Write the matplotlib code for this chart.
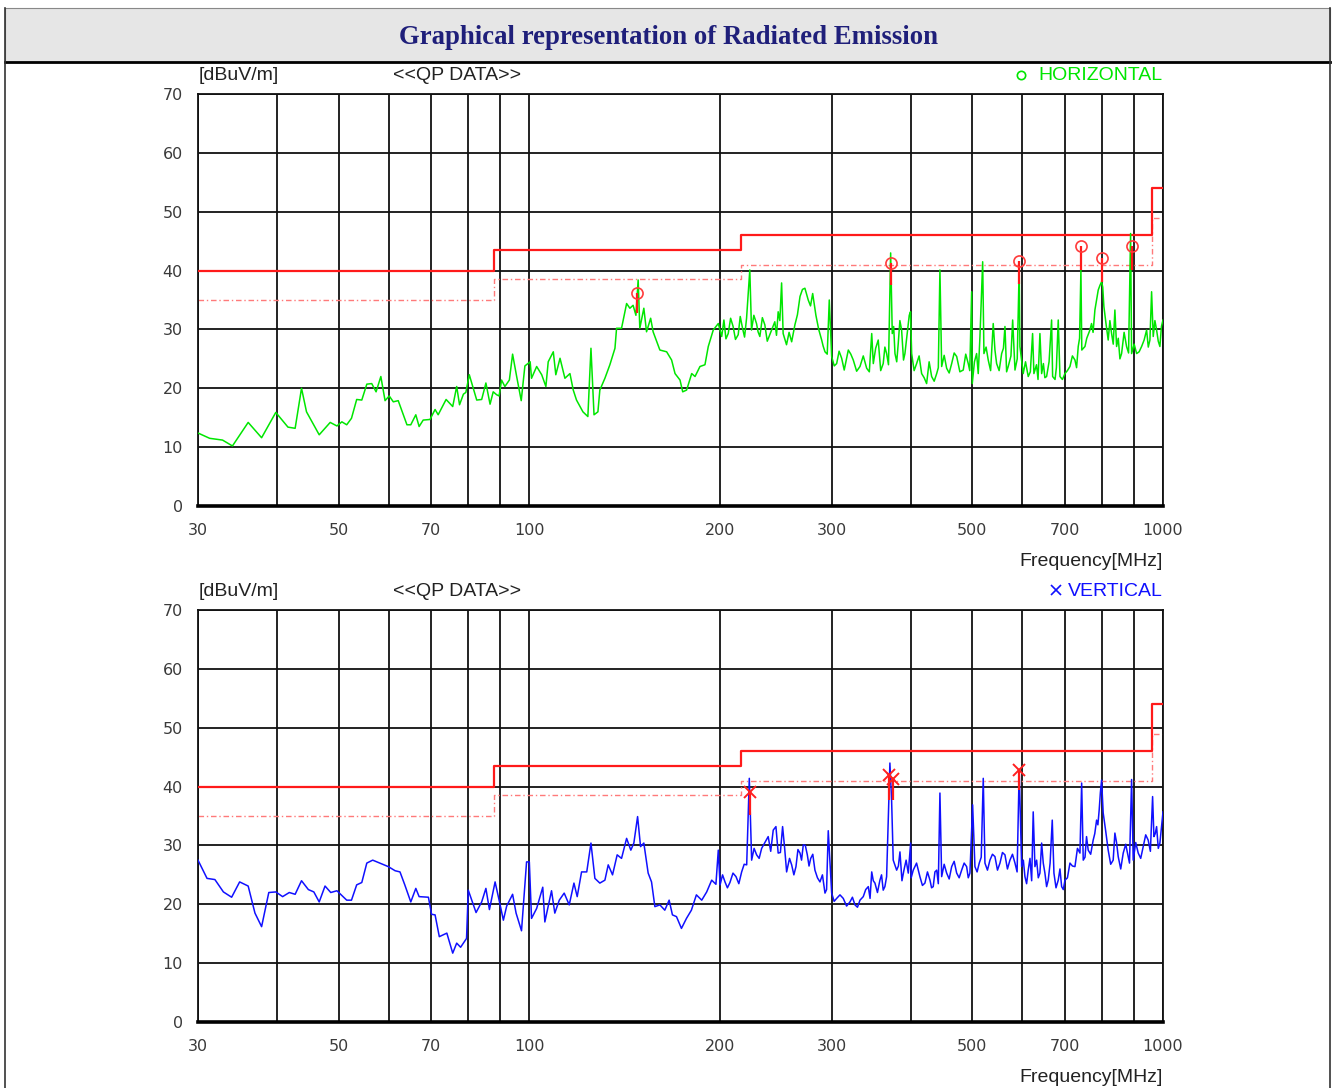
import matplotlib
matplotlib.use("Agg")
import numpy as np
import matplotlib.pyplot as plt
from matplotlib.patches import Rectangle
from matplotlib.lines import Line2D
from matplotlib.ticker import FixedLocator, NullFormatter

# ---- data (MHz, dBuV/m) ----
h_freq = [30.0, 31.3, 32.8, 34.0, 36.0, 37.8, 39.8, 41.6, 42.7, 43.7, 44.5, 46.6, 48.5, 49.7,
          50.6, 51.5, 52.4, 53.4, 54.4, 55.4, 56.4, 57.3, 58.3, 59.2, 60.1, 61.0, 62.1, 64.1,
          65.0, 66.2, 67.0, 68.0, 69.7, 71.0, 71.8, 73.9, 75.7, 76.8, 77.6, 78.7, 79.4, 80.4,
          82.6, 84.1, 85.4, 86.7, 87.7, 88.8, 89.6, 90.4, 91.5, 93.0, 94.1, 95.5, 97.1, 98.4,
          100.3, 100.8, 102.7, 104.6, 106.2, 107.1, 109.1, 110.1, 111.8, 113.8, 115.9, 117.3,
          118.7, 121.5, 123.7, 125.1, 126.5, 128.3, 129.2, 131.6, 134.0, 136.5, 137.3, 139.8,
          142.4, 144.1, 145.8, 147.3, 148.5, 149.4, 151.6, 153.1, 155.4, 156.8, 160.7, 164.7,
          167.7, 169.8, 172.9, 174.6, 177.1, 180.4, 182.6, 185.9, 189.3, 191.6, 195.1, 198.7,
          201.2, 202.8, 206.0, 209.7, 213.6, 217.0, 220.2, 222.8, 224.2, 228.3, 231.1, 235.3,
          239.6, 244.0, 247.0, 250.1, 251.5, 254.6, 259.4, 262.5, 267.4, 272.2, 275.5, 280.0,
          283.3, 289.3, 292.8, 297.4, 300.0, 305.5, 311.1, 318.7, 324.5, 332.5, 340.7, 347.0,
          349.0, 355.3, 361.8, 366.3, 371.7, 373.9, 377.6, 382.1, 386.8, 391.5, 397.7, 401.2,
          408.5, 416.0, 423.6, 431.4, 439.4, 444.6, 447.4, 455.6, 464.0, 472.5, 483.9, 492.8,
          498.9, 500.0, 508.0, 514.2, 519.3, 521.7, 529.9, 539.6, 546.3, 556.4, 563.1, 569.8,
          579.1, 584.0, 593.0, 594.6, 601.7, 612.8, 622.6, 625.6, 639.4, 643.4, 655.1, 667.1,
          669.6, 683.4, 687.7, 700.3, 713.1, 726.2, 734.9, 742.1, 744.5, 753.1, 766.8, 780.8,
          790.3, 800.0, 806.7, 819.4, 829.6, 839.6, 844.8, 860.3, 876.0, 888.9, 892.2, 908.6,
          925.2, 942.2, 953.6, 959.4, 965.1, 977.0, 988.8, 1000.0]
h_level = [12.4, 11.5, 11.2, 10.2, 14.2, 11.6, 15.9, 13.4, 13.2, 20.0, 16.0, 12.1, 14.2, 13.6,
           14.3, 13.8, 14.9, 18.1, 18.0, 20.7, 20.8, 19.4, 22.0, 17.9, 18.7, 17.7, 17.9, 13.8,
           13.8, 15.5, 13.5, 14.6, 14.7, 16.4, 15.5, 18.1, 16.9, 20.3, 17.2, 19.0, 19.3, 22.3,
           18.0, 18.1, 20.9, 17.3, 19.4, 18.9, 18.7, 21.4, 20.3, 21.4, 25.8, 22.0, 17.9, 23.8,
           24.5, 21.7, 23.7, 22.3, 20.3, 24.5, 26.2, 22.3, 25.1, 21.7, 22.5, 19.7,
           18.0, 16.0, 15.2, 26.8, 15.5, 16.0, 19.7, 21.7, 24.0, 26.8, 30.2, 30.2,
           34.4, 33.6, 34.1, 32.4, 38.4, 30.2, 33.6, 29.6, 31.9, 29.6, 26.5, 26.2,
           24.8, 22.5, 21.4, 19.4, 19.7, 22.5, 22.0, 23.7, 24.0, 27.1, 29.9, 31.0,
           28.8, 31.6, 29.3, 30.5, 29.1, 30.2, 31.9, 40.1, 29.9, 31.0, 28.8, 30.8,
           29.1, 31.3, 33.0, 37.9, 29.3, 27.4, 27.9, 30.8, 35.6, 37.0, 35.0, 36.1,
           32.4, 28.2, 26.2, 35.0, 25.4, 24.2, 25.1, 26.5, 24.8, 23.7, 23.4, 29.3,
           24.2, 28.2, 24.2, 25.9, 43.0, 29.3, 25.9, 27.6, 29.9, 25.9, 32.4, 25.9,
           24.2, 22.5, 20.8, 22.0, 22.5, 40.1, 23.7, 23.4, 24.2, 25.4, 23.1, 24.2,
           36.4, 20.8, 25.9, 28.8, 41.5, 25.9, 24.8, 31.0, 24.2, 25.9, 30.5, 23.7,
           31.6, 23.1, 40.5, 27.1, 22.5, 22.0, 29.3, 22.5, 29.3, 22.5, 22.0, 31.6,
           22.0, 31.6, 22.0, 22.5, 23.7, 24.8, 27.1, 40.1, 26.5, 27.1, 29.9, 33.3,
           36.7, 38.1, 33.9, 28.2, 29.3, 33.3, 27.1, 25.9, 27.1, 46.3, 25.9, 25.9,
           27.1, 29.9, 28.2, 36.4, 28.8, 29.9, 27.1, 31.6]

# extra readings in the dense (noisy) part of the horizontal sweep
h_freq_fine = [204.3, 207.8, 211.5, 215.2, 218.6, 226.1, 229.6, 233.2, 237.4, 241.8, 245.5,
               248.5, 257.0, 264.9, 269.8, 277.8, 286.2, 290.8, 295.2, 302.8, 308.2, 314.0,
               321.6, 328.5, 336.5, 344.0, 352.0, 358.5, 364.0, 368.8, 375.8, 380.0, 384.4,
               389.5, 394.5, 399.5, 404.8, 412.2, 419.8, 427.5, 435.4, 442.0, 451.5, 459.8,
               468.2, 478.0, 488.3, 495.5, 504.0, 511.0, 525.8, 534.5, 543.0, 551.3, 560.0,
               566.5, 575.5, 588.8, 606.8, 617.5, 631.5, 635.0, 647.5, 651.0, 661.0, 675.5,
               678.8, 693.8, 706.5, 719.5, 730.5, 738.5, 758.0, 771.3, 775.6, 785.5, 795.3,
               803.3, 812.9, 824.5, 834.6, 850.0, 855.1, 868.2, 882.4, 900.5, 916.9, 933.7,
               947.9, 971.0, 982.9, 994.3]
h_level_fine = [28.4, 31.9, 28.3, 32.2, 28.7, 32.4, 29.6, 32.0, 28.0, 30.2, 29.0,
                31.5, 29.5, 32.5, 36.8, 34.0, 30.0, 27.2, 25.8, 23.8, 26.3, 23.1,
                25.8, 22.9, 25.5, 22.8, 26.8, 23.0, 27.0, 24.0, 30.5, 24.5, 31.5,
                24.8, 29.0, 33.0, 23.0, 25.5, 21.8, 24.5, 21.2, 23.5, 25.6, 22.6,
                26.0, 22.8, 25.8, 23.0, 24.5, 22.5, 27.0, 23.0, 26.5, 23.0, 26.8,
                22.8, 25.5, 25.0, 24.5, 22.8, 24.0, 21.5, 24.2, 21.8, 24.5, 21.5,
                23.5, 21.5, 23.0, 25.5, 23.5, 28.5, 28.5, 31.0, 29.5, 35.0, 37.5,
                37.2, 31.0, 31.5, 27.5, 28.5, 25.0, 29.5, 26.0, 27.5, 26.2, 28.2,
                27.0, 31.5, 28.0, 30.5]

v_freq = [30.0, 31.0, 31.9, 32.9, 33.9, 34.9, 36.0, 36.9, 37.8, 38.8, 39.8, 40.8, 41.8, 42.7,
          43.7, 44.8, 45.7, 46.6, 47.6, 48.6, 49.7, 51.5, 52.4, 53.4, 54.4, 55.4, 56.6, 58.1,
          59.9, 61.4, 62.5, 63.6, 65.0, 66.2, 67.0, 69.3, 70.1, 71.0, 72.1, 74.1, 75.7, 76.8,
          77.9, 79.6, 80.1, 82.4, 84.1, 85.4, 86.5, 88.3, 89.6, 91.0, 92.1, 94.1, 95.3, 97.2,
          99.0, 100.0, 100.8, 102.7, 105.0, 105.8, 108.4, 109.7, 111.5, 113.5, 115.6, 117.6,
          119.0, 120.9, 123.2, 125.1, 126.9, 129.2, 131.6, 133.2, 135.3, 137.6, 139.8, 142.4,
          144.6, 146.2, 148.2, 149.8, 151.6, 154.0, 155.9, 157.8, 160.7, 163.6, 166.2, 168.2,
          170.7, 173.8, 177.0, 180.2, 183.5, 187.1, 190.5, 194.0, 197.0, 198.7, 200.0, 203.6,
          207.3, 211.9, 216.3, 220.3, 222.4, 224.3, 228.4, 232.6, 238.2, 242.6, 245.0, 247.0,
          251.0, 254.7, 259.4, 263.5, 267.4, 270.6, 274.6, 278.0, 282.3, 287.5, 292.8, 296.3,
          300.0, 305.5, 312.9, 320.6, 326.5, 332.5, 336.5, 342.7, 347.0, 351.1, 357.5, 361.8,
          366.3, 370.7, 373.0, 375.2, 379.9, 384.5, 390.1, 396.3, 399.7, 403.5, 413.4, 421.0,
          428.8, 433.9, 439.4, 444.6, 447.4, 455.6, 464.0, 472.5, 481.1, 489.9, 495.8, 500.7,
          504.9, 512.9, 520.4, 523.6, 533.2, 543.0, 553.0, 563.1, 573.4, 584.0, 593.0, 598.3,
          605.5, 612.8, 624.0, 627.9, 639.4, 643.4, 651.1, 659.0, 668.7, 672.8, 683.4, 691.9,
          700.3, 713.1, 726.2, 739.5, 744.1, 748.4, 762.0, 775.9, 785.6, 793.0, 800.0, 804.7,
          819.4, 834.4, 839.6, 849.8, 865.4, 881.2, 892.2, 897.4, 913.9, 930.6, 947.6, 962.9,
          967.5, 977.0, 988.8, 1000.0]
v_level = [27.5, 24.4, 24.2, 22.1, 21.2, 23.8, 23.1, 18.5, 16.2, 22.0, 22.1, 21.3, 22.0, 21.7,
           24.0, 22.5, 22.1, 20.4, 23.1, 22.0, 22.3, 20.7, 20.7, 23.3, 23.7, 27.0, 27.5, 27.0,
           26.4, 25.7, 25.5, 23.3, 20.4, 22.7, 21.3, 21.2, 18.3, 18.2, 14.5, 15.1, 11.7, 13.4,
           12.7, 14.2, 22.4, 18.6, 20.4, 22.7, 19.1, 23.8, 20.7, 17.3, 19.7, 21.7, 18.5, 15.5,
           27.2, 27.2, 17.6, 19.3, 22.9, 17.0, 22.3, 18.5, 20.7, 21.9, 19.9, 23.6,
           21.3, 25.5, 25.5, 30.4, 24.4, 23.6, 24.1, 26.7, 25.0, 28.4, 27.8, 31.2,
           29.2, 30.4, 34.9, 29.8, 30.4, 25.3, 23.8, 19.6, 19.9, 19.0, 20.7, 18.2,
           17.9, 15.9, 17.6, 19.0, 21.6, 20.7, 22.1, 24.1, 23.4, 29.2, 23.3, 23.8,
           23.7, 24.7, 25.5, 26.7, 41.4, 27.5, 28.4, 29.5, 31.5, 32.6, 33.2, 28.7,
           33.2, 25.5, 26.7, 26.4, 28.7, 30.1, 28.4, 27.8, 25.8, 23.8, 21.9, 32.5,
           21.9, 21.0, 21.0, 20.4, 19.9, 20.7, 21.3, 23.0, 25.5, 23.6, 24.1, 22.4,
           24.7, 44.0, 37.7, 27.5, 25.8, 28.9, 25.8, 25.3, 30.4, 25.8, 24.7, 23.6,
           24.1, 23.0, 25.8, 38.9, 24.7, 25.3, 26.4, 25.3, 25.8, 26.4, 25.3, 36.9,
           26.4, 27.0, 41.4, 27.0, 27.5, 28.1, 27.0, 28.4, 27.5, 27.0, 42.8, 26.4,
           24.7, 25.8, 35.7, 26.4, 25.3, 30.4, 25.3, 24.1, 34.3, 25.3, 24.1, 23.0,
           24.1, 27.0, 26.4, 28.7, 40.6, 27.5, 29.2, 30.9, 34.3, 36.0, 41.1, 35.5,
           29.2, 27.5, 32.1, 28.1, 28.7, 28.1, 41.2, 27.5, 28.7, 29.8, 30.9, 38.3,
           31.5, 33.2, 30.4, 35.7]

# extra readings in the dense part of the vertical sweep
v_freq_fine = [201.8, 205.4, 209.6, 214.1, 218.3, 226.3, 230.5, 235.4, 240.4, 249.0, 252.9,
               257.4, 261.5, 265.4, 268.9, 272.6, 276.3, 280.1, 284.9, 290.1, 294.5, 302.7,
               309.2, 316.7, 323.5, 329.5, 339.5, 344.9, 349.0, 354.3, 359.6, 364.0, 382.3,
               387.3, 393.2, 400.5, 408.4, 417.2, 424.9, 431.3, 436.6, 442.0, 451.5, 459.8,
               468.2, 476.8, 485.5, 492.8, 508.9, 516.6, 528.4, 538.1, 548.0, 558.0, 568.2,
               578.7, 588.5, 602.0, 609.2, 616.7, 620.5, 631.8, 635.6, 647.2, 655.1, 663.5,
               677.9, 687.7, 696.1, 706.6, 719.6, 732.8, 753.2, 757.4, 768.9, 780.4, 789.3,
               796.5, 811.9, 826.9, 844.7, 857.6, 873.3, 885.4, 905.6, 922.2, 939.1, 955.2,
               972.2, 983.0, 994.4]
v_level_fine = [25.0, 22.8, 25.3, 23.5, 26.8, 29.5, 27.8, 30.5, 29.0, 28.8, 29.5,
                27.8, 25.0, 29.3, 27.5, 30.0, 26.5, 28.5, 24.5, 25.0, 22.5, 20.5,
                21.6, 19.7, 21.2, 19.5, 22.5, 21.0, 24.0, 22.0, 25.0, 23.0, 26.5,
                24.0, 27.5, 24.5, 27.0, 23.2, 25.5, 22.8, 25.5, 23.5, 26.8, 24.3,
                27.3, 24.5, 27.0, 24.5, 25.5, 28.0, 25.8, 28.5, 25.8, 28.8, 26.0,
                28.5, 25.5, 27.5, 23.5, 27.8, 24.0, 27.5, 24.5, 27.0, 23.0, 27.0,
                22.8, 26.0, 22.5, 24.5, 26.5, 29.5, 28.0, 31.5, 28.5, 32.0, 33.5,
                39.0, 32.5, 26.8, 30.5, 26.0, 30.2, 27.0, 30.5, 27.8, 31.8, 29.0,
                32.0, 29.5, 33.0]

# QP results (marker level) and red stem bottoms
h_mark_freq = [148.0, 372.4, 593.0, 741.0, 800.0, 892.0]
h_mark_level = [36.2, 41.3, 41.7, 44.1, 42.1, 44.2]
h_stem_low = [32.8, 37.5, 37.8, 40.1, 38.1, 40.1]

v_mark_freq = [223.0, 369.0, 375.0, 593.0]
v_mark_level = [39.1, 41.9, 41.3, 42.9]
v_stem_low = [35.2, 37.7, 37.7, 39.4]

# limit (solid) and margin (dash-dot)
limit_edges = [30, 88, 216, 960, 1000]
limit_qp = [40, 43.5, 46, 54, 54]
limit_margin = [35, 38.5, 41, 49, 49]

grid_freqs = [40, 50, 60, 70, 80, 90, 100, 200, 300, 400, 500, 600, 700, 800, 900]
tick_freqs = [30, 50, 70, 100, 200, 300, 500, 700, 1000]
tick_labels = ["30", "50", "70", "100", "200", "300", "500", "700", "1000"]
y_ticks = [0, 10, 20, 30, 40, 50, 60, 70]


def merge(f1, l1, f2, l2):
    f = np.array(f1 + f2)
    l = np.array(l1 + l2)
    order = np.argsort(f, kind="stable")
    return f[order], l[order]


W, H = 1337, 1088
fig = plt.figure(figsize=(W / 100, H / 100), dpi=100)
fig.patch.set_facecolor("white")

# header band + frame
fig.add_artist(Rectangle((5 / W, 1 - 62 / H), (1330 - 5) / W, 54 / H,
                         transform=fig.transFigure, facecolor="#e6e6e6",
                         edgecolor="#888888", lw=0.8))
fig.add_artist(Line2D([5 / W, 1330 / W], [1 - 62 / H, 1 - 62 / H], transform=fig.transFigure,
                      color="black", lw=2.0))
fig.add_artist(Line2D([5 / W, 5 / W], [0, 1 - 8 / H], transform=fig.transFigure,
                      color="#333333", lw=1.2))
fig.add_artist(Line2D([1330 / W, 1330 / W], [0, 1 - 8 / H], transform=fig.transFigure,
                      color="#333333", lw=1.2))
fig.text(0.5, 1 - 38 / H, "Graphical representation of Radiated Emission",
         ha="center", va="center", fontsize=19.3, fontweight="bold",
         family="Liberation Serif", color="#1f1f7a")


def draw_panel(ax, freq, level, color, mfreq, mlevel, mlow, marker, legend):
    ax.set_xscale("log")
    ax.set_xlim(30, 1000)
    ax.set_ylim(0, 70)

    ax.set_xticks(tick_freqs)
    ax.set_xticklabels(tick_labels)
    ax.xaxis.set_minor_locator(FixedLocator(grid_freqs))
    ax.xaxis.set_minor_formatter(NullFormatter())
    ax.set_yticks(y_ticks)
    ax.grid(which="both", color="#111111", lw=1.3, zorder=0)
    ax.set_axisbelow(True)
    ax.tick_params(which="both", length=0)
    ax.tick_params(axis="x", pad=12, labelsize=11.5, labelcolor="#3a3a3a")
    ax.tick_params(axis="y", pad=11, labelsize=11.5, labelcolor="#3a3a3a")
    for lab in ax.get_xticklabels() + ax.get_yticklabels():
        lab.set_family("DejaVu Sans")
    for s in ["top", "left", "right"]:
        ax.spines[s].set_linewidth(1.3)
        ax.spines[s].set_color("#111111")
    ax.spines["bottom"].set_linewidth(2.6)

    ax.step(limit_edges, limit_margin, where="post", color="#ff7a7a", lw=1.0,
            linestyle=(0, (4, 2, 1, 2)), zorder=2)
    ax.step(limit_edges, limit_qp, where="post", color="#ff1a1a", lw=1.6, zorder=3)

    ax.plot(freq, level, color=color, lw=1.1, zorder=4)

    ax.vlines(mfreq, mlow, mlevel, color="#ff1a1a", lw=1.6, zorder=5)
    if marker == "o":
        ax.plot(mfreq, mlevel, "o", ms=8, mfc="none", mec="#ff3b3b", mew=1.2, zorder=6)
    else:
        ax.plot(mfreq, mlevel, "x", ms=9, mec="#ff2020", mew=1.4, zorder=6)

    top = 1 + 18 / 412
    ax.text(0.001, top, "[dBuV/m]", transform=ax.transAxes, ha="left", va="center",
            fontsize=14, family="Liberation Sans", color="#222222")
    ax.text(0.202, top, "<<QP DATA>>", transform=ax.transAxes, ha="left", va="center",
            fontsize=14, family="Liberation Sans", color="#222222")
    ax.text(1.0, -55 / 412, "Frequency[MHz]", transform=ax.transAxes, ha="right",
            va="center", fontsize=14, family="Liberation Sans", color="#222222")
    if marker == "o":
        ax.plot([0.853], [top + 0.002], "o", ms=6, mfc="none", mec=color, mew=1.2,
                transform=ax.transAxes, clip_on=False)
    else:
        ax.plot([0.889], [top + 0.004], "x", ms=7, mec=color, mew=1.2,
                transform=ax.transAxes, clip_on=False)
    ax.text(1.0, top, legend, transform=ax.transAxes, ha="right", va="center",
            fontsize=14, family="Liberation Sans", color=color)


left = 198 / W
width = 965 / W
height = 412 / H
ax1 = fig.add_axes([left, 1 - 506 / H, width, height])
ax2 = fig.add_axes([left, 1 - 1022 / H, width, height])

hf, hl = merge(h_freq, h_level, h_freq_fine, h_level_fine)
vf, vl = merge(v_freq, v_level, v_freq_fine, v_level_fine)

draw_panel(ax1, hf, hl, "#00e600", h_mark_freq, h_mark_level, h_stem_low,
           "o", "HORIZONTAL")
draw_panel(ax2, vf, vl, "#1010ff", v_mark_freq, v_mark_level, v_stem_low,
           "x", "VERTICAL")

fig.savefig("out.png", dpi=100)
